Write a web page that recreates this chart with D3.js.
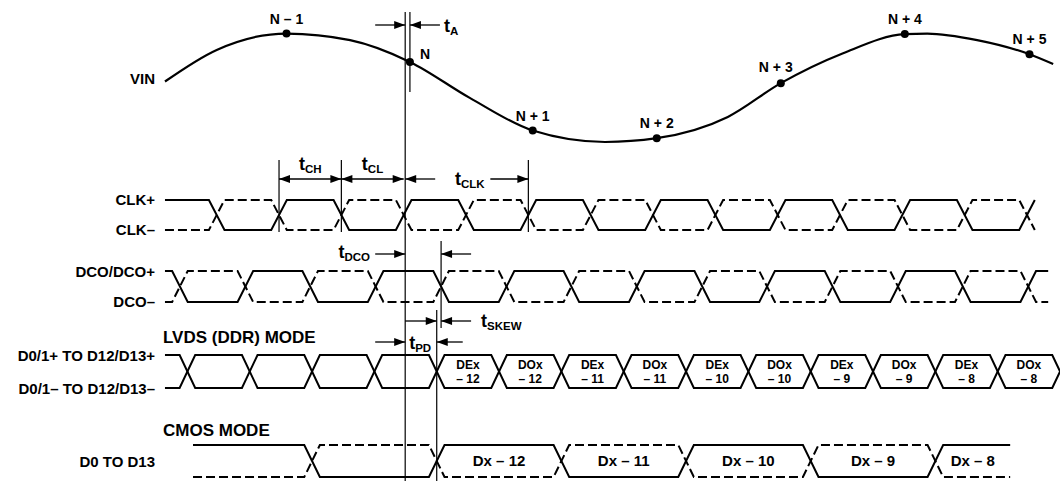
<!DOCTYPE html>
<html>
<head>
<meta charset="utf-8">
<script src="https://cdn.jsdelivr.net/npm/d3@7"></script>
<style>
  body { margin: 0; background: #fff; }
  svg { display: block; font-family: "Liberation Sans", Arial, sans-serif; font-weight: bold; }
</style>
</head>
<body>
<div id="chart"></div>
<script>
// time is in half clock periods, 0 = first CLK crossing
const vinT = [-0.83, 0, 1.12, 2.14, 3.1, 4.06, 5.07, 6.23, 7.06, 8.2, 9.05, 10.05, 11.04, 11.4, 12.2, 13.04, 13.42];
const vinV = [0.11, 0.69, 0.99, 0.87, 0.47, -0.19, -0.79, -1.0, -0.93, -0.54, 0.08, 0.63, 0.98, 0.99, 0.87, 0.61, 0.43];

const sampleNames = ["N – 1", "N", "N + 1", "N + 2", "N + 3", "N + 4", "N + 5"];
const sampleT = [1.12, 3.1, 5.07, 7.06, 9.05, 11.04, 13.04];
const sampleV = [0.99, 0.47, -0.79, -0.93, 0.08, 0.98, 0.61];

const clkEdges = [0, 1, 2, 3, 4, 5, 6, 7, 8, 9, 10, 11, 12, 13];
const dcoEdges = [-0.59, 0.46, 1.5, 2.55, 3.6, 4.65, 5.69, 6.74, 7.79, 8.83, 9.88, 10.93, 11.97, 13.02];
const lvdsEdges = [-0.47, 0.53, 1.53, 2.53, 3.53, 4.53, 5.53, 6.53, 7.53, 8.53, 9.53, 10.53, 11.53, 12.53, 13.53];
const lvdsTop = ["DEx", "DOx", "DEx", "DOx", "DEx", "DOx", "DEx", "DOx", "DEx", "DOx"];
const lvdsBottom = ["– 12", "– 12", "– 11", "– 11", "– 10", "– 10", "– 9", "– 9", "– 8", "– 8"];
const cmosEdges = [1.53, 3.53, 5.53, 7.53, 9.53, 11.53];
const cmosCells = ["Dx – 12", "Dx – 11", "Dx – 10", "Dx – 9", "Dx – 8"];

const width = 1060, height = 482;
const svg = d3.select("#chart").append("svg")
  .attr("width", width)
  .attr("height", height);

const x = d3.scaleLinear().domain([0, 13]).range([216.7, 1027]);
const yVin = d3.scaleLinear().domain([-1, 1]).range([142, 33]);
const tw = 0.125; // half width of a transition

// arrow heads
function head(xTip, y, dir) {
  svg.append("path")
    .attr("d", `M${xTip},${y}L${xTip - dir * 11},${y - 4}L${xTip - dir * 11},${y + 4}Z`)
    .attr("fill", "#000");
}
function arrow(x0, x1, y) {
  svg.append("line").attr("x1", x0).attr("x2", x1).attr("y1", y).attr("y2", y)
    .attr("stroke", "#000").attr("stroke-width", 1.3);
  head(x1, y, x1 > x0 ? 1 : -1);
}
function dblArrow(x0, x1, y) {
  svg.append("line").attr("x1", x0).attr("x2", x1).attr("y1", y).attr("y2", y)
    .attr("stroke", "#000").attr("stroke-width", 1.3);
  head(x0, y, -1);
  head(x1, y, 1);
}
function vline(xv, y0, y1) {
  svg.append("line").attr("x1", xv).attr("x2", xv).attr("y1", y0).attr("y2", y1)
    .attr("stroke", "#000").attr("stroke-width", 1.2);
}
function tLabel(xl, y, sub, anchor) {
  const t = svg.append("text").attr("x", xl).attr("y", y)
    .attr("text-anchor", anchor || "start");
  t.append("tspan").attr("font-size", 18).text("t");
  t.append("tspan").attr("font-size", 11.5).attr("dy", 3).text(sub);
}
function label(text, y, size, anchor, xl) {
  svg.append("text").attr("x", xl).attr("y", y)
    .attr("text-anchor", anchor).attr("font-size", size).text(text);
}

// two lines of a differential / data row
function wave(edges, t0, t1) {
  const a = [[t0, 1]], b = [[t0, 0]];
  let s = 1;
  edges.forEach(e => {
    a.push([e - tw, s], [e + tw, 1 - s]);
    b.push([e - tw, 1 - s], [e + tw, s]);
    s = 1 - s;
  });
  a.push([Math.max(t1, a[a.length - 1][0]), s]);
  b.push([Math.max(t1, b[b.length - 1][0]), 1 - s]);
  return [a, b];
}
function drawRow(edges, t0, t1, yHi, yLo, dashB) {
  const yl = d3.scaleLinear().domain([0, 1]).range([yLo, yHi]);
  const line = d3.line().x(d => x(d[0])).y(d => yl(d[1]));
  const [a, b] = wave(edges, t0, t1);
  svg.append("path").attr("d", line(b)).attr("fill", "none")
    .attr("stroke", "#000").attr("stroke-width", 2)
    .attr("stroke-dasharray", dashB ? "9,4" : null);
  svg.append("path").attr("d", line(a)).attr("fill", "none")
    .attr("stroke", "#000").attr("stroke-width", 2);
}

// VIN
const vinPts = vinT.map((t, i) => [t, vinV[i]]);
svg.append("path")
  .attr("d", d3.line().x(d => x(d[0])).y(d => yVin(d[1])).curve(d3.curveMonotoneX)(vinPts))
  .attr("fill", "none").attr("stroke", "#000").attr("stroke-width", 2.2);
sampleT.forEach((t, i) => {
  svg.append("circle").attr("cx", x(t)).attr("cy", yVin(sampleV[i])).attr("r", 4).attr("fill", "#000");
  if (i === 1) label(sampleNames[i], yVin(sampleV[i]) - 3, 14, "start", x(t) + 10);
  else if (i === 4) label(sampleNames[i], yVin(sampleV[i]) - 11, 14, "middle", x(t) - 5);
  else label(sampleNames[i], yVin(sampleV[i]) - 10, 14, "middle", x(t));
});
label("VIN", 84, 15, "end", 155);

// signal rows
drawRow(clkEdges, -0.83, 13 + tw, 200, 230, true);
drawRow(dcoEdges, -0.83, 13.34, 271, 302, true);
drawRow(lvdsEdges, -0.83, 13.7, 355, 388, false);
drawRow(cmosEdges, -0.38, 12.73, 445, 477, true);

label("CLK+", 205, 15, "end", 155);
label("CLK–", 235, 15, "end", 155);
label("DCO/DCO+", 277, 15, "end", 155);
label("DCO–", 307, 15, "end", 155);
label("LVDS (DDR) MODE", 343, 17, "start", 163);
label("D0/1+ TO D12/D13+", 361, 15, "end", 155);
label("D0/1– TO D12/D13–", 394, 15, "end", 155);
label("CMOS MODE", 436, 17, "start", 163);
label("D0 TO D13", 467, 15, "end", 155);

// cell text
lvdsTop.forEach((s, i) => {
  const cx = x((lvdsEdges[i + 4] + lvdsEdges[i + 5]) / 2);
  label(s, 369, 12, "middle", cx);
  label(lvdsBottom[i], 383, 12, "middle", cx);
});
cmosCells.forEach((s, i) => {
  const cx = x((cmosEdges[i + 1] + (cmosEdges[i + 2] || 12.73)) / 2);
  label(s, 466, 15, "middle", cx);
});

// timing marks
const xL = x(clkEdges[3]) + 1.5;
const xN = x(sampleT[1]);
const xD = x(dcoEdges[4]);
const xData = x(lvdsEdges[4]);

vline(xL, 12, 481);
vline(xN, 12, 92);
arrow(xL - 30, xL, 25);
arrow(xN + 30, xN, 25);
tLabel(xN + 34, 32, "A");

vline(x(clkEdges[1]), 160, 232);
vline(x(clkEdges[2]), 160, 232);
vline(x(clkEdges[5]), 160, 232);
dblArrow(x(clkEdges[1]), x(clkEdges[2]), 179);
dblArrow(x(clkEdges[2]), x(clkEdges[3]), 179);
tLabel((x(clkEdges[1]) + x(clkEdges[2])) / 2, 170, "CH", "middle");
tLabel((x(clkEdges[2]) + x(clkEdges[3])) / 2, 170, "CL", "middle");
arrow(xL + 30, xL, 179);
arrow(x(clkEdges[5]) - 38, x(clkEdges[5]), 179);
tLabel((xL + x(clkEdges[5])) / 2 + 3, 185, "CLK", "middle");

vline(xD, 241, 328);
vline(xData, 310, 481);
arrow(xL - 30, xL, 254);
arrow(xD + 30, xD, 254);
tLabel(370, 258, "DCO", "end");

arrow(xL, xData, 321);
arrow(xD + 30, xD, 321);
tLabel(xD + 40, 327, "SKEW");

arrow(xL - 30, xL, 342);
arrow(xData + 26, xData, 342);
tLabel(xL + 4, 349, "PD");
</script>
</body>
</html>
